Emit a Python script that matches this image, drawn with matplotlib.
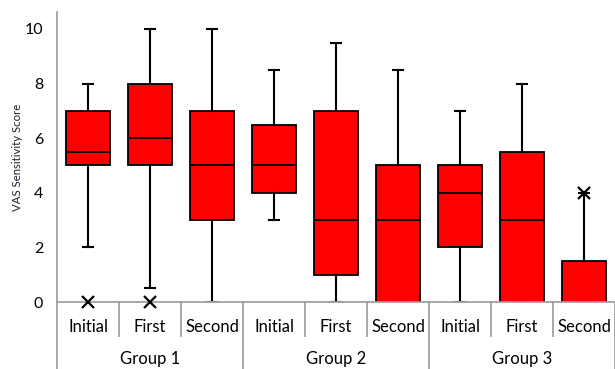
import matplotlib

matplotlib.use("Agg")
import matplotlib.pyplot as plt
from matplotlib.transforms import blended_transform_factory

plt.rcParams["font.family"] = ["Lato", "DejaVu Sans"]

# box statistics
categories = ["Initial", "First", "Second"] * 3
groups = ["Group 1", "Group 2", "Group 3"]
whislo = [2, 0.5, 0, 3, 0, 0, 0, 0, 0]
q1 = [5, 5, 3, 4, 1, 0, 2, 0, 0]
med = [5.5, 6, 5, 5, 3, 3, 4, 3, 0]
q3 = [7, 8, 7, 6.5, 7, 5, 5, 5.5, 1.5]
whishi = [8, 10, 10, 8.5, 9.5, 8.5, 7, 8, 4]
fliers = [[0], [0], [], [], [], [], [], [], [4]]

stats = [
    dict(whislo=a, q1=b, med=c, q3=d, whishi=e, fliers=f)
    for a, b, c, d, e, f in zip(whislo, q1, med, q3, whishi, fliers)
]

fig = plt.figure(figsize=(6.15, 3.69), dpi=100)
ax = fig.add_axes([57 / 615, 67 / 369, 558 / 615, 290 / 369])

pos = list(range(1, len(stats) + 1))
art = ax.bxp(
    stats, positions=pos, widths=0.71, patch_artist=True, showfliers=True,
    boxprops=dict(facecolor="#ff0000", edgecolor="black", linewidth=1.3),
    medianprops=dict(color="black", linewidth=1.3),
    whiskerprops=dict(color="black", linewidth=1.5),
    capprops=dict(color="black", linewidth=1.5),
    capwidths=0.16,
    flierprops=dict(marker="x", markersize=8, markeredgecolor="black",
                    markeredgewidth=1.6),
)
for fl in art["fliers"]:
    fl.set_clip_on(False)
    fl.set_zorder(5)

ax.set_xlim(0.5, len(stats) + 0.5)
ax.set_ylim(0, 10.62)
ax.set_yticks([0, 2, 4, 6, 8, 10])
ax.tick_params(axis="y", length=0, labelsize=11.5, pad=10)
ax.set_xticks([])
for s in ("top", "right"):
    ax.spines[s].set_visible(False)
for s in ("left", "bottom"):
    ax.spines[s].set_color("#a0a0a0")
    ax.spines[s].set_linewidth(1.3)
ax.set_ylabel("VAS Sensitivity Score", fontsize=8.2, labelpad=1, color="#1f1f2f")

tr = blended_transform_factory(ax.transData, ax.transAxes)
gray = "#a0a0a0"
for i, cat in enumerate(categories):
    ax.text(pos[i], -0.085, cat, transform=tr, ha="center", va="center", fontsize=12)
for k in range(len(stats) + 1):
    xb = k + 0.5
    depth = -0.231 if k % 3 == 0 else -0.118
    ax.plot([xb, xb], [0, depth], transform=tr, color=gray, lw=1.3, clip_on=False)
for g, name in enumerate(groups):
    ax.text(3 * g + 2, -0.195, name, transform=tr, ha="center", va="center", fontsize=12)

fig.savefig("out.png", dpi=100)
